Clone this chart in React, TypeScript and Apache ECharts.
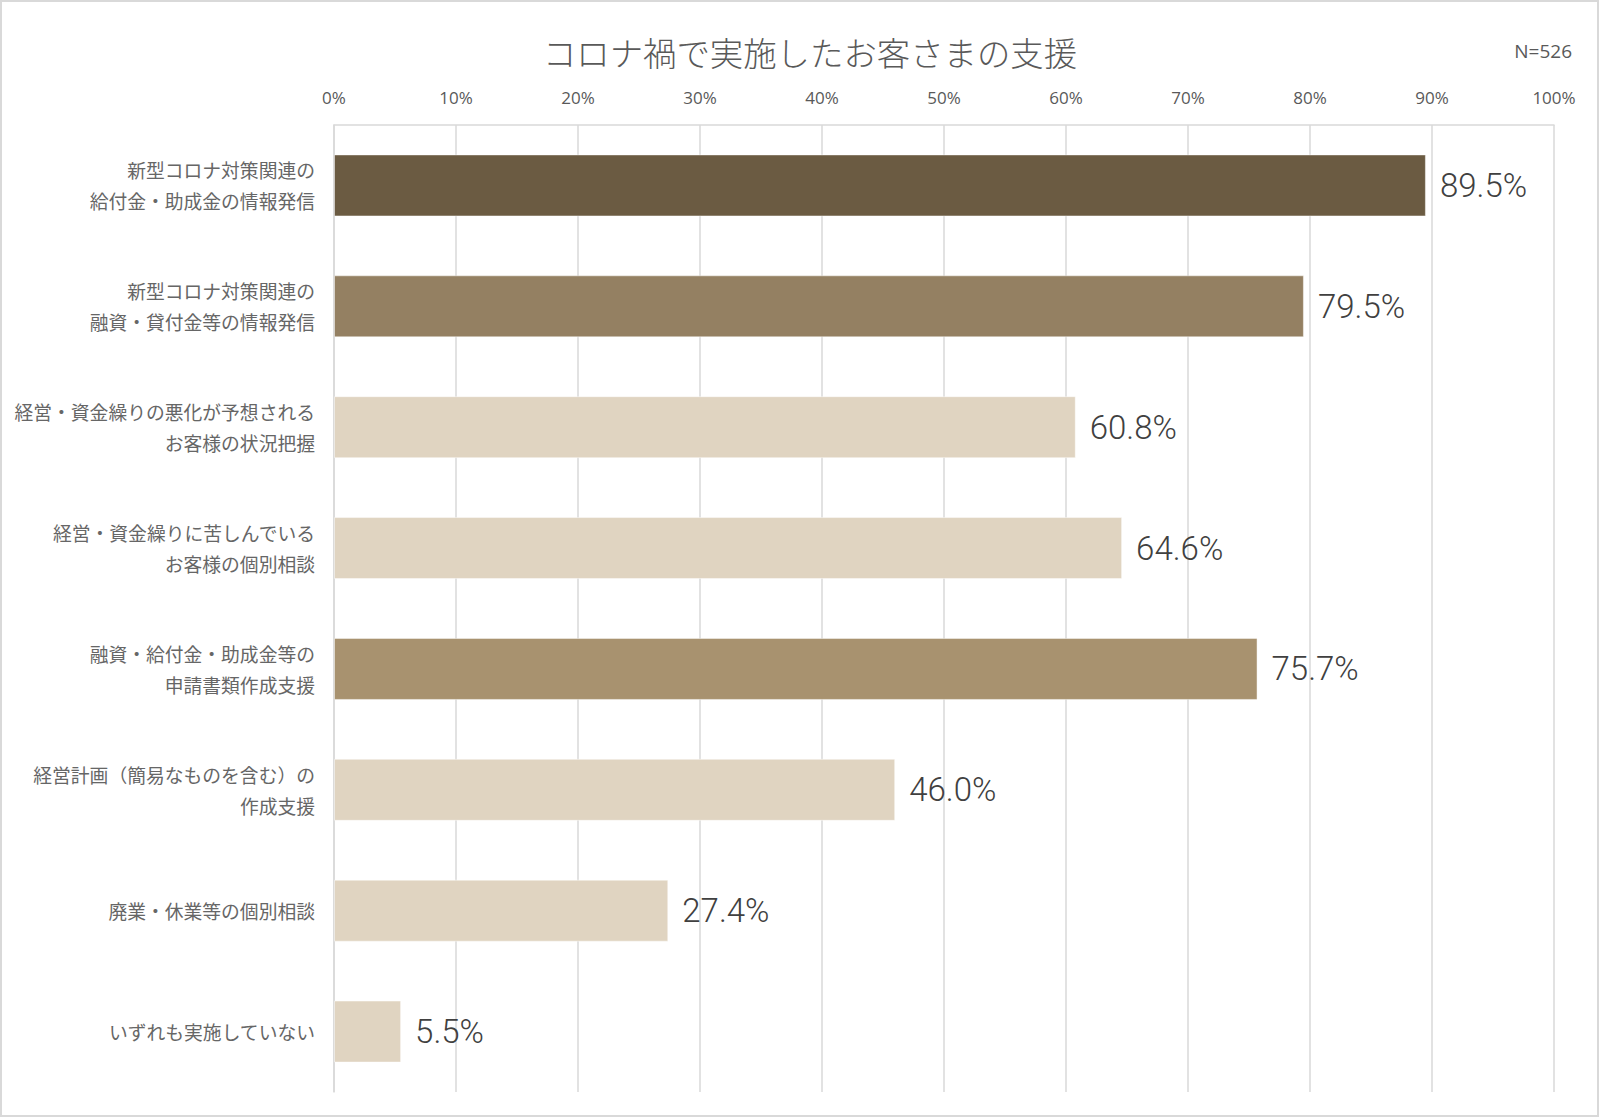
import React, { useEffect, useRef } from "react";
import * as echarts from "echarts";

const title = "コロナ禍で実施したお客さまの支援";
const sampleNote = "N=526";
const categories = [
  "新型コロナ対策関連の\n給付金・助成金の情報発信",
  "新型コロナ対策関連の\n融資・貸付金等の情報発信",
  "経営・資金繰りの悪化が予想される\nお客様の状況把握",
  "経営・資金繰りに苦しんでいる\nお客様の個別相談",
  "融資・給付金・助成金等の\n申請書類作成支援",
  "経営計画（簡易なものを含む）の\n作成支援",
  "廃業・休業等の個別相談",
  "いずれも実施していない",
];
const values = [89.5, 79.5, 60.8, 64.6, 75.7, 46.0, 27.4, 5.5];
const barColors = ["#6b5b42", "#948062", "#e0d4c1", "#e0d4c1", "#a8926f", "#e0d4c1", "#e0d4c1", "#e0d4c1"];

export default function App() {
  const ref = useRef<HTMLDivElement>(null);
  useEffect(() => {
    document.body.style.margin = "0";
    const chart = echarts.init(ref.current!, null, { renderer: "svg" });
    chart.setOption({
      animation: false,
      backgroundColor: "#ffffff",
      graphic: [
        {
          type: "rect",
          shape: { x: 1, y: 1, width: 1597, height: 1115 },
          style: { fill: "none", stroke: "#d9d9d9", lineWidth: 2 },
          silent: true,
        },
        {
          type: "text",
          x: 810,
          y: 51,
          style: {
            text: title,
            align: "center",
            verticalAlign: "middle",
            fontFamily: "'Noto Sans CJK JP'",
            fontSize: 33.4,
            fontWeight: 300,
            fill: "#595959",
          },
        },
        {
          type: "text",
          x: 1572,
          y: 51,
          style: {
            text: sampleNote,
            align: "right",
            verticalAlign: "middle",
            fontFamily: "'Open Sans'",
            fontSize: 19,
            fill: "#595959",
          },
        },
      ],
      grid: { left: 334, right: 46, top: 125, bottom: 27, containLabel: false },
      xAxis: {
        type: "value",
        position: "top",
        min: 0,
        max: 100,
        interval: 10,
        axisLine: { show: true, lineStyle: { color: "#d9d9d9", width: 1.5 } },
        axisTick: { show: false },
        axisLabel: {
          formatter: "{value}%",
          margin: 19,
          fontFamily: "'Open Sans'",
          fontSize: 17,
          color: "#595959",
        },
        splitLine: { show: true, lineStyle: { color: "#d9d9d9", width: 1.5 } },
      },
      yAxis: {
        type: "category",
        inverse: true,
        data: categories,
        axisLine: { show: true, lineStyle: { color: "#d9d9d9", width: 1.5 } },
        axisTick: { show: false },
        axisLabel: {
          margin: 19,
          fontFamily: "'Noto Sans CJK JP'",
          fontSize: 18.8,
          lineHeight: 31,
          color: "#666666",
          align: "right",
          padding: [0, 0, 3, 0],
        },
      },
      series: [
        {
          type: "bar",
          barWidth: 62,
          data: values.map((v, i) => ({
            value: v,
            itemStyle: { color: barColors[i] },
          })),
          itemStyle: { borderColor: "rgba(255,255,255,0.45)", borderWidth: 1 },
          label: {
            show: true,
            position: "right",
            distance: 14,
            formatter: (p: any) => Number(p.value).toFixed(1) + "%",
            fontFamily: "Roboto",
            fontWeight: 300,
            fontSize: 33,
            color: "#404040",
          },
        },
      ],
    });
    return () => chart.dispose();
  }, []);
  return <div ref={ref} style={{ position: "absolute", left: 0, top: 0, width: 1600, height: 1119 }} />;
}
